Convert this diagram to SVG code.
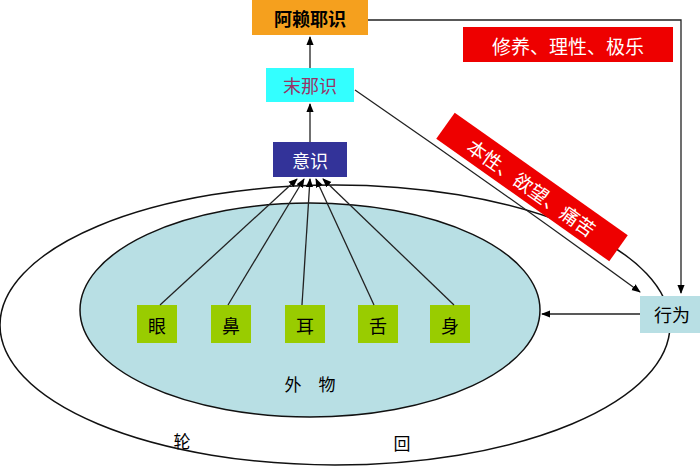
<svg xmlns="http://www.w3.org/2000/svg" width="700" height="470" viewBox="0 0 700 470">
<defs>
<marker id="ah" viewBox="0 0 10 10" refX="9" refY="5" markerWidth="7" markerHeight="7" orient="auto"><path d="M0,1 L10,5 L0,9 z" fill="#000"/></marker>
<style>
text{font-family:"Noto Sans CJK SC","Noto Sans",sans-serif;text-anchor:middle;dominant-baseline:central}
.ln{fill:none;stroke:#222;stroke-width:1.3}
.g rect{fill:#99cc00}
.g text{font-size:18px;fill:#000}
</style>
</defs>
<rect width="700" height="470" fill="#fff"/>
<g id="outer"><ellipse cx="335" cy="325" rx="335" ry="140" fill="#fff" stroke="#111" stroke-width="1.5"/><text x="182" y="440" font-size="17">轮</text><text x="402" y="442" font-size="17">回</text></g>
<g id="inner"><ellipse cx="310" cy="310" rx="230" ry="107" fill="#b8dfe4" stroke="#111" stroke-width="1.5"/><text x="310" y="383" font-size="17">外　物</text></g>
<g id="alaya"><rect x="252" y="0" width="116" height="35" fill="#f5a01e"/><text x="310" y="18" font-size="18" font-weight="bold">阿赖耶识</text></g>
<g id="manas"><rect x="266" y="68" width="88" height="34" fill="#33ffff"/><text x="310" y="85" font-size="18" fill="#993366">末那识</text></g>
<g id="yishi"><rect x="273" y="142" width="74" height="35" fill="#333399"/><text x="310" y="160" font-size="18" fill="#fff">意识</text></g>
<g id="eye" class="g"><rect x="137" y="305" width="40" height="38"/><text x="157" y="325">眼</text></g>
<g id="nose" class="g"><rect x="211" y="305" width="40" height="38"/><text x="231" y="325">鼻</text></g>
<g id="ear" class="g"><rect x="285" y="305" width="40" height="38"/><text x="305" y="325">耳</text></g>
<g id="tongue" class="g"><rect x="358" y="305" width="40" height="38"/><text x="378" y="325">舌</text></g>
<g id="body" class="g"><rect x="430" y="305" width="40" height="38"/><text x="450" y="325">身</text></g>
<g id="act"><rect x="640" y="296" width="60" height="37" fill="#b8dfe4"/><text x="672" y="314" font-size="18">行为</text></g>
<g id="label1"><rect x="463" y="27" width="210" height="35" fill="#ee0000"/><text x="568" y="45" font-size="19" fill="#fff">修养、理性、极乐</text></g>
<g id="label2" transform="translate(532,187) rotate(35.3)"><rect x="-106" y="-16" width="212" height="32" fill="#ee0000"/><text x="0" y="0" font-size="19" fill="#fff">本性、欲望、痛苦</text></g>
<g id="connectors">
<path class="ln" d="M310,68 V37" marker-end="url(#ah)"/>
<path class="ln" d="M310,142 V104" marker-end="url(#ah)"/>
<path class="ln" d="M368,20 H681 V293" marker-end="url(#ah)"/>
<path class="ln" d="M355,90 Q500,190 640,292" marker-end="url(#ah)"/>
<path class="ln" d="M640,314 H542" marker-end="url(#ah)"/>
<path class="ln" d="M160,305 L297,179" marker-end="url(#ah)"/>
<path class="ln" d="M228,305 L304,179" marker-end="url(#ah)"/>
<path class="ln" d="M302,305 L310,179" marker-end="url(#ah)"/>
<path class="ln" d="M374,305 L316,179" marker-end="url(#ah)"/>
<path class="ln" d="M454,305 L323,179" marker-end="url(#ah)"/>
</g>
</svg>
